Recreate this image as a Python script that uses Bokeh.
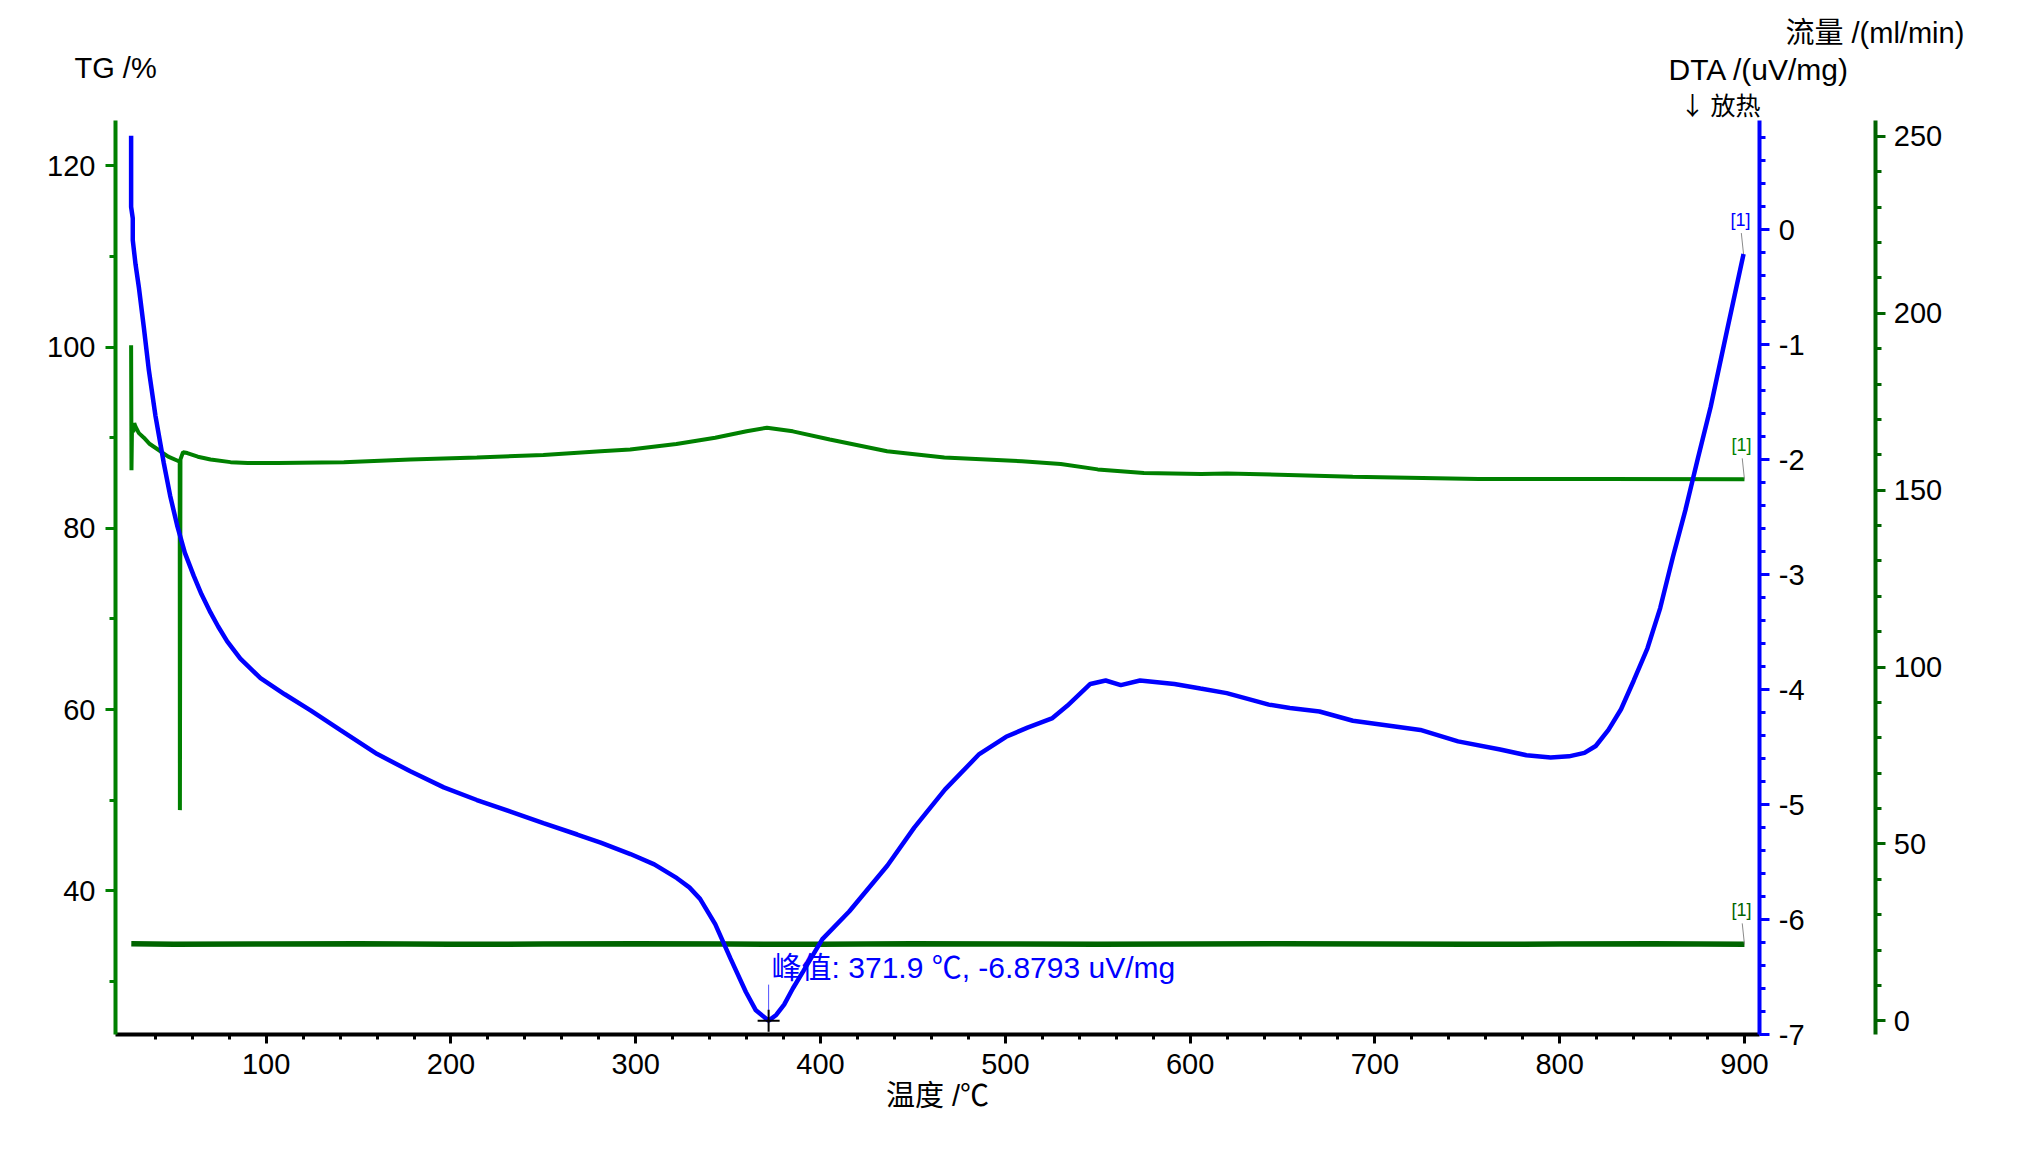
from bokeh.plotting import figure
from bokeh.models import (Range1d, LinearAxis, SingleIntervalTicker, FixedTicker, Label,
                          CustomJSTickFormatter)
from bokeh.embed import file_html
from bokeh.resources import INLINE

# ---------------- data ----------------
tg_temp = [26.9, 27.1, 27.4, 28.0, 28.6, 29.3, 31.1, 33.8, 37.0, 42.8, 47.0, 52.7, 53.2, 53.3, 53.6,
           55.0, 57.3, 63.0, 69.9, 80.7, 90.0, 106, 142, 178, 214, 250, 281, 297, 322, 343, 360,
           371, 385, 405, 436, 467, 509, 530, 550, 575, 606, 620, 688, 756, 825, 900]
tg_pct = [100.2, 86.4, 91.5, 90.6, 91.6, 91.2, 90.5, 90.0, 89.3, 88.5, 87.9, 87.4, 87.3, 48.9, 87.6,
          88.4, 88.3, 87.9, 87.6, 87.3, 87.2, 87.2, 87.3, 87.6, 87.8, 88.1, 88.5, 88.7, 89.3, 90.0, 90.7,
          91.1, 90.7, 89.8, 88.5, 87.8, 87.4, 87.1, 86.5, 86.1, 86.0, 86.05, 85.7, 85.44, 85.44, 85.4]

dta_temp = [26.9, 26.9, 27.8, 27.8, 29.3, 31.1, 33.8, 36.5, 40.1, 44.6, 48.0, 51.8, 56.0, 60.8, 65.0,
            69.9, 74.0, 78.9, 86.0, 96.9, 110, 124, 140, 160.1, 178, 196.1, 214, 232.2, 250, 268.3,
            281, 297.1, 310, 322.3, 329, 334.8, 343, 351.3, 359.6, 365, 371.9, 376, 380.3, 385, 390.6,
            401, 415.5, 436.2, 450.7, 467.3, 485.9, 500.4, 512, 525.2, 533.5, 546, 554.3, 562.5,
            572.9, 591.5, 605.6, 619.8, 642.6, 654, 670, 688.1, 710.9, 724.6, 745, 767.8, 782, 795.1,
            805, 813.4, 819.5, 826.4, 833.2, 840.1, 847.5, 854.4, 861.2, 868.0, 874.9, 881.7, 890.5,
            899.5]
dta_val = [0.82, 0.20, 0.10, -0.09, -0.30, -0.50, -0.85, -1.22, -1.62, -2.03, -2.31, -2.57, -2.81,
           -3.01, -3.17, -3.33, -3.45, -3.58, -3.73, -3.90, -4.04, -4.18, -4.35, -4.56, -4.71, -4.85,
           -4.96, -5.06, -5.16, -5.26, -5.33, -5.43, -5.52, -5.64, -5.72, -5.82, -6.04, -6.34, -6.63,
           -6.79, -6.8793, -6.83, -6.74, -6.60, -6.45, -6.17, -5.93, -5.53, -5.20, -4.87, -4.56,
           -4.41, -4.33, -4.25, -4.14, -3.95, -3.92, -3.96, -3.92, -3.95, -3.99, -4.03, -4.13, -4.16,
           -4.19, -4.27, -4.32, -4.35, -4.45, -4.52, -4.57, -4.59, -4.58, -4.55, -4.49, -4.35, -4.17,
           -3.92, -3.64, -3.29, -2.85, -2.44, -1.98, -1.54, -0.88, -0.21]

flow_temp = [27, 50, 100, 150, 200, 250, 300, 350, 400, 450, 500, 550, 600, 650, 700, 750, 800, 850, 900]
flow_val = [21.8, 21.6, 21.7, 21.8, 21.6, 21.7, 21.8, 21.7, 21.6, 21.8, 21.7, 21.6, 21.7, 21.8, 21.7,
            21.6, 21.7, 21.8, 21.6]

PEAK_T = 371.9
PEAK_DTA = -6.8793

# axis ticks
x_major_ticks = [100, 200, 300, 400, 500, 600, 700, 800, 900]
x_minor_ticks = [40, 60, 80, 120, 140, 160, 180, 220, 240, 260, 280, 320, 340, 360, 380, 420, 440,
                 460, 480, 520, 540, 560, 580, 620, 640, 660, 680, 720, 740, 760, 780, 820, 840,
                 860, 880]

X_RANGE = (18.45, 908.3)
TG_RANGE = (24.14, 125.0)
DTA_RANGE = (-7.0, 0.952)
FLOW_RANGE = (-3.88, 254.5)

# ---------------- layout (page pixels) ----------------
W, H = 2030, 1160
PL, PR, PT, PB = 115.0, 1759.3, 120.0, 1034.0   # axes box
FLOW_AX_X = 1875.3                               # position of the flow axis

GREEN = "#008000"
DGREEN = "#006400"
BLUE = "#0000ff"
SANS = "'Liberation Sans', 'Noto Sans CJK SC'"
CJK = "'Noto Sans CJK SC'"


def full_range(lo, hi, p0, p1, total, flip=False):
    ppu = (p1 - p0) / (hi - lo)
    if flip:  # vertical: pixel grows downward
        return Range1d(lo - (total - p1) / ppu, hi + p0 / ppu), ppu
    return Range1d(lo - p0 / ppu, hi + (total - p1) / ppu), ppu


xr, X_PPU = full_range(*X_RANGE, PL, PR, W)
tgr, TG_PPU = full_range(*TG_RANGE, PT, PB, H, flip=True)
dtar, DTA_PPU = full_range(*DTA_RANGE, PT, PB, H, flip=True)
flowr, FLOW_PPU = full_range(*FLOW_RANGE, PT, PB, H, flip=True)


def px2x(fx):
    return xr.start + fx / X_PPU


def px2tg(fy):
    return tgr.end - fy / TG_PPU


p = figure(width=W, height=H, output_backend="svg", toolbar_location=None,
           x_range=xr, y_range=tgr, min_border=0,
           min_border_left=0, min_border_right=0, min_border_top=0, min_border_bottom=0)
p.title.visible = False
p.extra_y_ranges = {"dta": dtar, "flow": flowr}
p.outline_line_color = None
p.grid.visible = False
p.background_fill_color = "white"
p.border_fill_color = "white"

int_fmt = CustomJSTickFormatter(code="return tick.toFixed(0);")


def style_axis(ax, color, tick_color, tick_out, minor_out, standoff):
    ax.axis_line_color = color
    ax.axis_line_width = 4
    ax.major_tick_line_color = tick_color
    ax.minor_tick_line_color = tick_color
    ax.major_tick_line_width = 3
    ax.minor_tick_line_width = 3
    ax.major_tick_in = 0
    ax.minor_tick_in = 0
    ax.major_tick_out = tick_out
    ax.minor_tick_out = minor_out
    ax.major_label_text_font = "Liberation Sans"
    ax.major_label_text_font_size = "29px"
    ax.major_label_text_color = "black"
    ax.major_label_standoff = standoff
    ax.formatter = int_fmt


xax = p.xaxis[0]
xax.ticker = FixedTicker(ticks=x_major_ticks, minor_ticks=x_minor_ticks)
style_axis(xax, "black", "black", 9, 5, 10)
xax.fixed_location = TG_RANGE[0]
xax.bounds = X_RANGE
xax.axis_label = "温度 /℃"
xax.axis_label_text_font = SANS
xax.axis_label_text_font_size = "29px"
xax.axis_label_text_font_style = "normal"
xax.axis_label_text_color = "black"
xax.axis_label_standoff = 3

yax = p.yaxis[0]
yax.ticker = SingleIntervalTicker(interval=20, num_minor_ticks=2)
style_axis(yax, GREEN, GREEN, 10, 6, 10)
yax.fixed_location = X_RANGE[0]
yax.bounds = TG_RANGE

dta_axis = LinearAxis(y_range_name="dta", ticker=SingleIntervalTicker(interval=1, num_minor_ticks=5))
style_axis(dta_axis, BLUE, BLUE, 10, 6, 9)
dta_axis.fixed_location = X_RANGE[1]
dta_axis.bounds = DTA_RANGE
p.add_layout(dta_axis, "right")

flow_axis = LinearAxis(y_range_name="flow", ticker=SingleIntervalTicker(interval=50, num_minor_ticks=5))
style_axis(flow_axis, DGREEN, DGREEN, 10, 6, 8)
flow_axis.fixed_location = px2x(FLOW_AX_X)
flow_axis.bounds = FLOW_RANGE
p.add_layout(flow_axis, "right")

# ---------------- curves ----------------
p.line(flow_temp, flow_val, y_range_name="flow", line_color=DGREEN, line_width=5.5)
p.line(tg_temp, tg_pct, line_color=GREEN, line_width=4)
p.line(dta_temp, dta_val, y_range_name="dta", line_color=BLUE, line_width=4.5)

# peak marker + annotation
p.segment(x0=[PEAK_T], y0=[PEAK_DTA], x1=[PEAK_T], y1=[PEAK_DTA + 36 / DTA_PPU],
          y_range_name="dta", line_color="#5050ff", line_width=1)
p.scatter(x=[PEAK_T], y=[PEAK_DTA], y_range_name="dta", marker="cross", size=22,
          line_color="black", line_width=2)
p.add_layout(Label(x=PEAK_T, y=PEAK_DTA, y_range_name="dta", x_offset=3, y_offset=53,
                   text=f"峰值: {PEAK_T} ℃, {PEAK_DTA} uV/mg", text_font=SANS,
                   text_font_size="30px", text_color=BLUE, text_baseline="middle", text_align="left"))

# end-of-curve "[1]" tags with leader lines
for xs, ys, rng, col, ppu in [(dta_temp, dta_val, "dta", BLUE, DTA_PPU),
                              (tg_temp, tg_pct, "default", GREEN, TG_PPU),
                              (flow_temp, flow_val, "flow", DGREEN, FLOW_PPU)]:
    xe, ye = xs[-1], ys[-1]
    p.segment(x0=[xe], y0=[ye], x1=[xe - 1.2], y1=[ye + 21 / ppu], y_range_name=rng,
              line_color="#8a8a8a", line_width=1)
    p.add_layout(Label(x=xe, y=ye, y_range_name=rng, x_offset=-3, y_offset=24, text="[1]",
                       text_font="Liberation Sans", text_font_size="18px", text_color=col,
                       text_align="center", text_baseline="bottom"))

# ---------------- axis titles ----------------
titles = [
    ("TG /%", 74, 67, "left", "29px", SANS),
    ("DTA /(uV/mg)", 1668, 69, "left", "30px", SANS),
    ("↓ 放热", 1760, 103.5, "right", "25px", CJK),
    ("流量 /(ml/min)", 1785, 32, "left", "29px", SANS),
]
for txt, fx, fy, al, fs, fnt in titles:
    p.add_layout(Label(x=px2x(fx), y=px2tg(fy), text=txt, text_font=fnt, text_font_size=fs,
                       text_color="black", text_align=al, text_baseline="middle"))

open("out.html", "w").write(file_html(p, INLINE))
